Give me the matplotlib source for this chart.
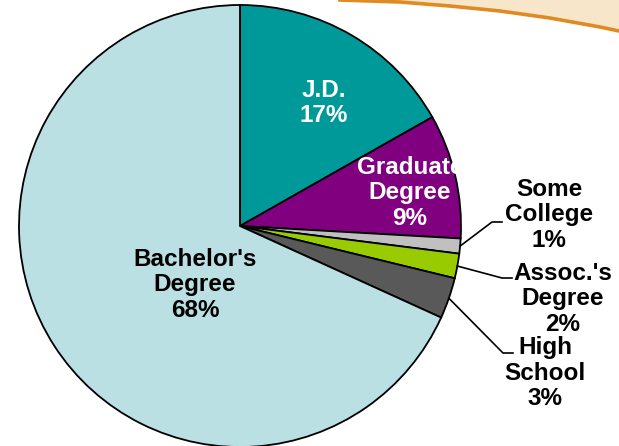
import matplotlib
matplotlib.use("Agg")
import matplotlib.pyplot as plt
import numpy as np
from matplotlib.patches import Polygon
from matplotlib.lines import Line2D

categories = ["J.D.", "Graduate\nDegree", "Some\nCollege", "Assoc.'s\nDegree", "High\nSchool", "Bachelor's\nDegree"]
values = [16.8, 9.1, 1.1, 1.8, 3.0, 68.2]
pct_labels = ["17%", "9%", "1%", "2%", "3%", "68%"]
colors = ["#009999", "#800080", "#C0C0C0", "#99CC00", "#595959", "#BBE0E3"]

W, H = 619, 446
fig = plt.figure(figsize=(W / 100, H / 100), dpi=100)
fig.patch.set_facecolor("white")

# decorative swoosh at top right
curve = [(340, 0), (400, 2), (450, 6), (500, 11), (550, 18), (600, 27), (619, 31)]
poly_pts = [(x / W, 1 - y / H) for x, y in curve] + [(1, 1)]
fig.patches.append(Polygon(poly_pts, closed=True, transform=fig.transFigure,
                           facecolor="#F8E6CB", edgecolor="none", zorder=0))
fig.lines.append(Line2D([x / W for x, y in curve], [1 - y / H for x, y in curve],
                        transform=fig.transFigure, color="#E08A22", lw=2.6, zorder=1))

cx, cy, R = 240, 226, 221
ax = fig.add_axes([(cx - R) / W, (H - cy - R) / H, 2 * R / W, 2 * R / H])

wedges, _ = ax.pie(values, colors=colors, startangle=90, counterclock=False, radius=1,
                   wedgeprops=dict(edgecolor="black", linewidth=1.3))
ax.set_xlim(-1, 1)
ax.set_ylim(-1, 1)
ax.set_aspect("equal")
ax.axis("off")
for w in wedges:
    w.set_clip_on(False)

font = dict(family=["Liberation Sans", "DejaVu Sans"], fontweight="bold", fontsize=17.5,
            ha="center", va="center", linespacing=1.12)

def px(x, y):
    return (x - cx) / R, (cy - y) / R

# inside labels
inside = {0: (px(324, 103), "white"), 1: (px(410, 193), "white"), 5: (px(195, 285), "black")}
for i, ((lx, ly), col) in inside.items():
    t = ax.text(lx, ly, categories[i] + "\n" + pct_labels[i], color=col, **font)
    if i == 1:
        t.set_clip_path(wedges[1])

# outside labels with leader lines
outside = {
    2: (px(549, 215), px(492, 222), px(502, 222)),
    3: (px(563, 299), px(502, 278), px(512, 278)),
    4: (px(545, 373), px(503, 353), px(513, 353)),
}
for i, ((lx, ly), (ex, ey), (hx, hy)) in outside.items():
    w = wedges[i]
    mid = np.deg2rad((w.theta1 + w.theta2) / 2)
    sx, sy = np.cos(mid), np.sin(mid)
    ax.plot([sx, ex, hx], [sy, ey, hy], color="black", lw=1.2, clip_on=False)
    ax.text(lx, ly, categories[i] + "\n" + pct_labels[i], color="black", **font)

fig.savefig("out.png", dpi=100)
